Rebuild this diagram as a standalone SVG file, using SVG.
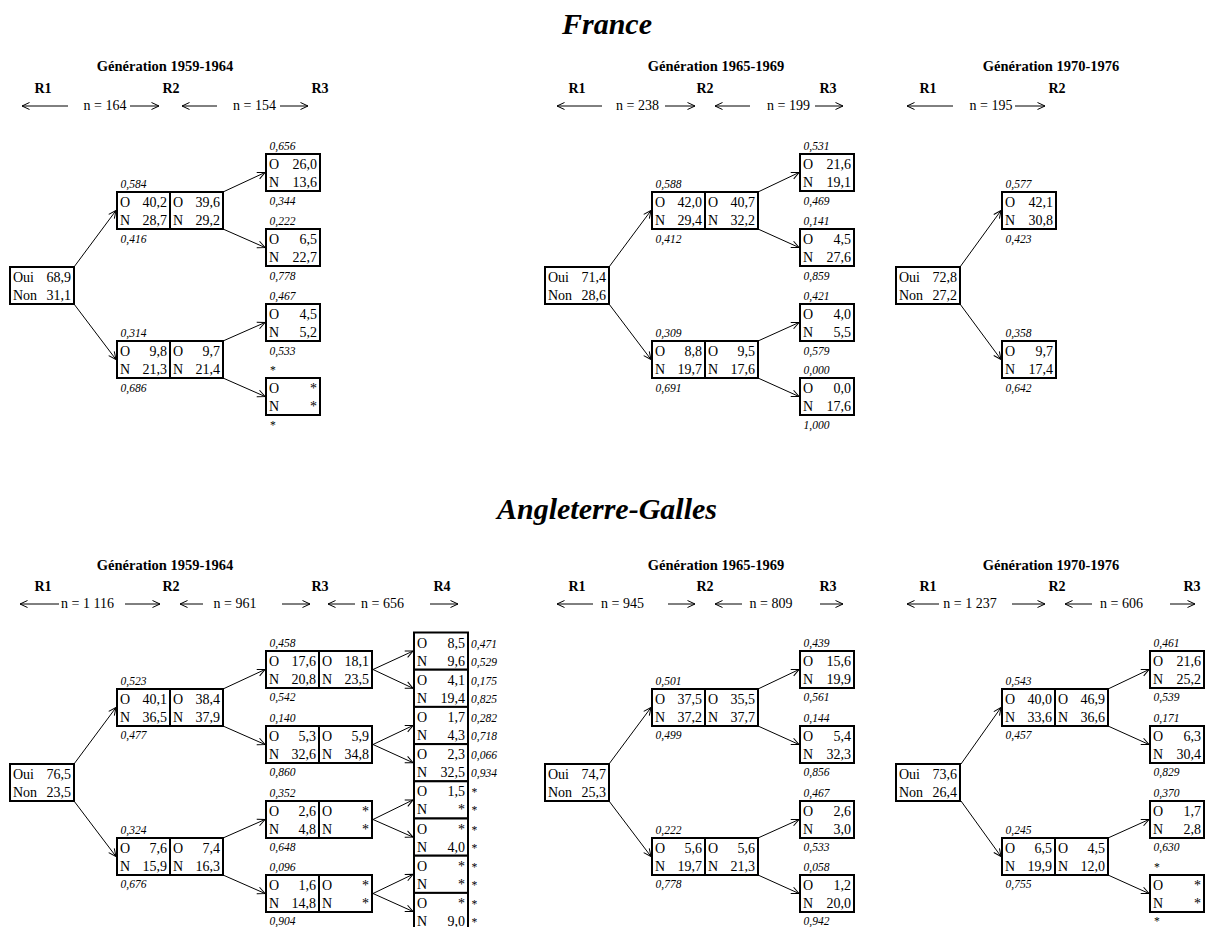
<svg xmlns="http://www.w3.org/2000/svg" width="1205" height="927" viewBox="0 0 1205 927">
<defs>
<marker id="ah" markerUnits="userSpaceOnUse" markerWidth="10" markerHeight="10" viewBox="0 0 10 10" refX="9.5" refY="5" orient="auto"><path d="M2,1.5 L9.5,5 L2,8.5" fill="none" stroke="#000" stroke-width="1"/></marker>
</defs>
<style>
text{font-family:"Liberation Serif","Times New Roman",serif;fill:#000}
.t{font-size:14px}
.e{text-anchor:end}
.l{font-size:11.5px;font-style:italic}
.hd{font-size:14.5px;font-weight:bold;text-anchor:middle}
.r{font-size:14px;font-weight:bold;text-anchor:middle}
.n{font-size:14px;text-anchor:middle}
.ttl{font-size:30px;font-weight:bold;font-style:italic;text-anchor:middle}
.b{fill:#fff;stroke:#000;stroke-width:2}
.d{stroke:#000;stroke-width:2}
.c{stroke:#000;stroke-width:1;fill:none;marker-end:url(#ah)}
</style>
<rect width="1205" height="927" fill="#fff"/>

<text class="ttl" x="607" y="34">France</text>
<text class="ttl" x="607" y="518.5">Angleterre-Galles</text>

<g id="headers">
<text class="hd" x="165" y="70.5">Génération 1959-1964</text>
<text class="r" x="43" y="93">R1</text><text class="r" x="171" y="93">R2</text><text class="r" x="320" y="93">R3</text>
<text class="n" x="105" y="110">n = 164</text><text class="n" x="254.5" y="110">n = 154</text>

<text class="hd" x="716" y="70.5">Génération 1965-1969</text>
<text class="r" x="577" y="93">R1</text><text class="r" x="705" y="93">R2</text><text class="r" x="828" y="93">R3</text>
<text class="n" x="637.5" y="110">n = 238</text><text class="n" x="788.5" y="110">n = 199</text>

<text class="hd" x="1051" y="70.5">Génération 1970-1976</text>
<text class="r" x="928" y="93">R1</text><text class="r" x="1057" y="93">R2</text>
<text class="n" x="991" y="110">n = 195</text>

<text class="hd" x="165" y="569.5">Génération 1959-1964</text>
<text class="r" x="43" y="591">R1</text><text class="r" x="171" y="591">R2</text><text class="r" x="320" y="591">R3</text><text class="r" x="442" y="591">R4</text>
<text class="n" x="87.5" y="608">n = 1 116</text><text class="n" x="235" y="608">n = 961</text><text class="n" x="382.5" y="608">n = 656</text>

<text class="hd" x="716" y="569.5">Génération 1965-1969</text>
<text class="r" x="577" y="591">R1</text><text class="r" x="705" y="591">R2</text><text class="r" x="828" y="591">R3</text>
<text class="n" x="622.5" y="608">n = 945</text><text class="n" x="771" y="608">n = 809</text>

<text class="hd" x="1051" y="569.5">Génération 1970-1976</text>
<text class="r" x="928" y="591">R1</text><text class="r" x="1057" y="591">R2</text><text class="r" x="1192" y="591">R3</text>
<text class="n" x="970" y="608">n = 1 237</text><text class="n" x="1121.5" y="608">n = 606</text>
</g>

<g id="scale-arrows">
<line class="c" x1="68" y1="106" x2="22" y2="106"/><line class="c" x1="130" y1="106" x2="159" y2="106"/>
<line class="c" x1="217" y1="106" x2="182" y2="106"/><line class="c" x1="280" y1="106" x2="308" y2="106"/>
<line class="c" x1="602" y1="106" x2="557" y2="106"/><line class="c" x1="665" y1="106" x2="695" y2="106"/>
<line class="c" x1="750" y1="106" x2="715" y2="106"/><line class="c" x1="815" y1="106" x2="843" y2="106"/>
<line class="c" x1="953" y1="106" x2="907" y2="106"/><line class="c" x1="1015" y1="106" x2="1045" y2="106"/>
<line class="c" x1="59" y1="604" x2="20" y2="604"/><line class="c" x1="125" y1="604" x2="160" y2="604"/>
<line class="c" x1="203" y1="604" x2="180" y2="604"/><line class="c" x1="282" y1="604" x2="310" y2="604"/>
<line class="c" x1="355" y1="604" x2="328" y2="604"/><line class="c" x1="430" y1="604" x2="458" y2="604"/>
<line class="c" x1="593" y1="604" x2="557" y2="604"/><line class="c" x1="668" y1="604" x2="695" y2="604"/>
<line class="c" x1="742" y1="604" x2="715" y2="604"/><line class="c" x1="820" y1="604" x2="843" y2="604"/>
<line class="c" x1="939" y1="604" x2="907" y2="604"/><line class="c" x1="1012" y1="604" x2="1045" y2="604"/>
<line class="c" x1="1092" y1="604" x2="1065" y2="604"/><line class="c" x1="1170" y1="604" x2="1195" y2="604"/>
</g>

<g id="connectors">
<line class="c" x1="74" y1="267" x2="116" y2="210.5"/>
<line class="c" x1="74" y1="304" x2="116" y2="359.5"/>
<line class="c" x1="223" y1="192" x2="265" y2="172.5"/>
<line class="c" x1="223" y1="229" x2="265" y2="247.5"/>
<line class="c" x1="223" y1="341" x2="265" y2="322.5"/>
<line class="c" x1="223" y1="378" x2="265" y2="396.5"/>

<line class="c" x1="609" y1="267" x2="651" y2="210.5"/>
<line class="c" x1="609" y1="304" x2="651" y2="359.5"/>
<line class="c" x1="758" y1="192" x2="799" y2="172.5"/>
<line class="c" x1="758" y1="229" x2="799" y2="247.5"/>
<line class="c" x1="758" y1="341" x2="799" y2="322.5"/>
<line class="c" x1="758" y1="378" x2="799" y2="396.5"/>

<line class="c" x1="960" y1="267" x2="1001" y2="210.5"/>
<line class="c" x1="960" y1="304" x2="1001" y2="359.5"/>

<line class="c" x1="74" y1="764" x2="116" y2="707.5"/>
<line class="c" x1="74" y1="801" x2="116" y2="856.5"/>
<line class="c" x1="223" y1="689" x2="265" y2="669.5"/>
<line class="c" x1="223" y1="726" x2="265" y2="744.5"/>
<line class="c" x1="223" y1="838" x2="265" y2="819.5"/>
<line class="c" x1="223" y1="875" x2="265" y2="893.5"/>
<line class="c" x1="373" y1="669.5" x2="413" y2="651.1"/>
<line class="c" x1="373" y1="669.5" x2="413" y2="688.3"/>
<line class="c" x1="373" y1="744.5" x2="413" y2="725.5"/>
<line class="c" x1="373" y1="744.5" x2="413" y2="762.7"/>
<line class="c" x1="373" y1="819.5" x2="413" y2="799.9"/>
<line class="c" x1="373" y1="819.5" x2="413" y2="837.1"/>
<line class="c" x1="373" y1="893.5" x2="413" y2="874.3"/>
<line class="c" x1="373" y1="893.5" x2="413" y2="911.5"/>

<line class="c" x1="609" y1="764" x2="651" y2="707.5"/>
<line class="c" x1="609" y1="801" x2="651" y2="856.5"/>
<line class="c" x1="758" y1="689" x2="799" y2="669.5"/>
<line class="c" x1="758" y1="726" x2="799" y2="744.5"/>
<line class="c" x1="758" y1="838" x2="799" y2="819.5"/>
<line class="c" x1="758" y1="875" x2="799" y2="893.5"/>

<line class="c" x1="961" y1="764" x2="1001" y2="707.5"/>
<line class="c" x1="961" y1="801" x2="1001" y2="856.5"/>
<line class="c" x1="1108" y1="689" x2="1149" y2="669.5"/>
<line class="c" x1="1108" y1="726" x2="1149" y2="744.5"/>
<line class="c" x1="1108" y1="838" x2="1149" y2="819.5"/>
<line class="c" x1="1108" y1="875" x2="1149" y2="893.5"/>
</g>

<!-- France 1959-1964 -->
<g id="fr59-root"><rect class="b" x="10" y="267" width="64" height="37"/><text class="t" x="13" y="282">Oui</text><text class="t e" x="71" y="282">68,9</text><text class="t" x="13" y="300">Non</text><text class="t e" x="71" y="300">31,1</text></g>
<g id="fr59-r2a"><rect class="b" x="117" y="192" width="106" height="37"/><line class="d" x1="170" y1="192" x2="170" y2="229"/><text class="l" x="120.5" y="188">0,584</text><text class="t" x="120" y="207">O</text><text class="t e" x="167" y="207">40,2</text><text class="t" x="173" y="207">O</text><text class="t e" x="220" y="207">39,6</text><text class="t" x="120" y="225">N</text><text class="t e" x="167" y="225">28,7</text><text class="t" x="173" y="225">N</text><text class="t e" x="220" y="225">29,2</text><text class="l" x="120.5" y="243">0,416</text></g>
<g id="fr59-r2b"><rect class="b" x="117" y="341" width="106" height="37"/><line class="d" x1="170" y1="341" x2="170" y2="378"/><text class="l" x="120.5" y="337">0,314</text><text class="t" x="120" y="356">O</text><text class="t e" x="167" y="356">9,8</text><text class="t" x="173" y="356">O</text><text class="t e" x="220" y="356">9,7</text><text class="t" x="120" y="374">N</text><text class="t e" x="167" y="374">21,3</text><text class="t" x="173" y="374">N</text><text class="t e" x="220" y="374">21,4</text><text class="l" x="120.5" y="392">0,686</text></g>
<g id="fr59-r3a"><rect class="b" x="266" y="154" width="54" height="37"/><text class="l" x="269.5" y="150">0,656</text><text class="t" x="269" y="169">O</text><text class="t e" x="317" y="169">26,0</text><text class="t" x="269" y="187">N</text><text class="t e" x="317" y="187">13,6</text><text class="l" x="269.5" y="205">0,344</text></g>
<g id="fr59-r3b"><rect class="b" x="266" y="229" width="54" height="37"/><text class="l" x="269.5" y="225">0,222</text><text class="t" x="269" y="244">O</text><text class="t e" x="317" y="244">6,5</text><text class="t" x="269" y="262">N</text><text class="t e" x="317" y="262">22,7</text><text class="l" x="269.5" y="280">0,778</text></g>
<g id="fr59-r3c"><rect class="b" x="266" y="304" width="54" height="37"/><text class="l" x="269.5" y="300">0,467</text><text class="t" x="269" y="319">O</text><text class="t e" x="317" y="319">4,5</text><text class="t" x="269" y="337">N</text><text class="t e" x="317" y="337">5,2</text><text class="l" x="269.5" y="355">0,533</text></g>
<g id="fr59-r3d"><rect class="b" x="266" y="378" width="54" height="37"/><text class="l" x="269.5" y="374">*</text><text class="t" x="269" y="393">O</text><text class="t e" x="317" y="393">*</text><text class="t" x="269" y="411">N</text><text class="t e" x="317" y="411">*</text><text class="l" x="269.5" y="429">*</text></g>

<!-- France 1965-1969 -->
<g id="fr65-root"><rect class="b" x="545" y="267" width="64" height="37"/><text class="t" x="548" y="282">Oui</text><text class="t e" x="606" y="282">71,4</text><text class="t" x="548" y="300">Non</text><text class="t e" x="606" y="300">28,6</text></g>
<g id="fr65-r2a"><rect class="b" x="652" y="192" width="106" height="37"/><line class="d" x1="705" y1="192" x2="705" y2="229"/><text class="l" x="655.5" y="188">0,588</text><text class="t" x="655" y="207">O</text><text class="t e" x="702" y="207">42,0</text><text class="t" x="708" y="207">O</text><text class="t e" x="755" y="207">40,7</text><text class="t" x="655" y="225">N</text><text class="t e" x="702" y="225">29,4</text><text class="t" x="708" y="225">N</text><text class="t e" x="755" y="225">32,2</text><text class="l" x="655.5" y="243">0,412</text></g>
<g id="fr65-r2b"><rect class="b" x="652" y="341" width="106" height="37"/><line class="d" x1="705" y1="341" x2="705" y2="378"/><text class="l" x="655.5" y="337">0,309</text><text class="t" x="655" y="356">O</text><text class="t e" x="702" y="356">8,8</text><text class="t" x="708" y="356">O</text><text class="t e" x="755" y="356">9,5</text><text class="t" x="655" y="374">N</text><text class="t e" x="702" y="374">19,7</text><text class="t" x="708" y="374">N</text><text class="t e" x="755" y="374">17,6</text><text class="l" x="655.5" y="392">0,691</text></g>
<g id="fr65-r3a"><rect class="b" x="800" y="154" width="54" height="37"/><text class="l" x="803.5" y="150">0,531</text><text class="t" x="803" y="169">O</text><text class="t e" x="851" y="169">21,6</text><text class="t" x="803" y="187">N</text><text class="t e" x="851" y="187">19,1</text><text class="l" x="803.5" y="205">0,469</text></g>
<g id="fr65-r3b"><rect class="b" x="800" y="229" width="54" height="37"/><text class="l" x="803.5" y="225">0,141</text><text class="t" x="803" y="244">O</text><text class="t e" x="851" y="244">4,5</text><text class="t" x="803" y="262">N</text><text class="t e" x="851" y="262">27,6</text><text class="l" x="803.5" y="280">0,859</text></g>
<g id="fr65-r3c"><rect class="b" x="800" y="304" width="54" height="37"/><text class="l" x="803.5" y="300">0,421</text><text class="t" x="803" y="319">O</text><text class="t e" x="851" y="319">4,0</text><text class="t" x="803" y="337">N</text><text class="t e" x="851" y="337">5,5</text><text class="l" x="803.5" y="355">0,579</text></g>
<g id="fr65-r3d"><rect class="b" x="800" y="378" width="54" height="37"/><text class="l" x="803.5" y="374">0,000</text><text class="t" x="803" y="393">O</text><text class="t e" x="851" y="393">0,0</text><text class="t" x="803" y="411">N</text><text class="t e" x="851" y="411">17,6</text><text class="l" x="803.5" y="429">1,000</text></g>

<!-- France 1970-1976 -->
<g id="fr70-root"><rect class="b" x="896" y="267" width="64" height="37"/><text class="t" x="899" y="282">Oui</text><text class="t e" x="957" y="282">72,8</text><text class="t" x="899" y="300">Non</text><text class="t e" x="957" y="300">27,2</text></g>
<g id="fr70-r2a"><rect class="b" x="1002" y="192" width="54" height="37"/><text class="l" x="1005.5" y="188">0,577</text><text class="t" x="1005" y="207">O</text><text class="t e" x="1053" y="207">42,1</text><text class="t" x="1005" y="225">N</text><text class="t e" x="1053" y="225">30,8</text><text class="l" x="1005.5" y="243">0,423</text></g>
<g id="fr70-r2b"><rect class="b" x="1002" y="341" width="54" height="37"/><text class="l" x="1005.5" y="337">0,358</text><text class="t" x="1005" y="356">O</text><text class="t e" x="1053" y="356">9,7</text><text class="t" x="1005" y="374">N</text><text class="t e" x="1053" y="374">17,4</text><text class="l" x="1005.5" y="392">0,642</text></g>

<!-- England 1959-1964 -->
<g id="en59-root"><rect class="b" x="10" y="764" width="64" height="37"/><text class="t" x="13" y="779">Oui</text><text class="t e" x="71" y="779">76,5</text><text class="t" x="13" y="797">Non</text><text class="t e" x="71" y="797">23,5</text></g>
<g id="en59-r2a"><rect class="b" x="117" y="689" width="106" height="37"/><line class="d" x1="170" y1="689" x2="170" y2="726"/><text class="l" x="120.5" y="685">0,523</text><text class="t" x="120" y="704">O</text><text class="t e" x="167" y="704">40,1</text><text class="t" x="173" y="704">O</text><text class="t e" x="220" y="704">38,4</text><text class="t" x="120" y="722">N</text><text class="t e" x="167" y="722">36,5</text><text class="t" x="173" y="722">N</text><text class="t e" x="220" y="722">37,9</text><text class="l" x="120.5" y="739">0,477</text></g>
<g id="en59-r2b"><rect class="b" x="117" y="838" width="106" height="37"/><line class="d" x1="170" y1="838" x2="170" y2="875"/><text class="l" x="120.5" y="834">0,324</text><text class="t" x="120" y="853">O</text><text class="t e" x="167" y="853">7,6</text><text class="t" x="173" y="853">O</text><text class="t e" x="220" y="853">7,4</text><text class="t" x="120" y="871">N</text><text class="t e" x="167" y="871">15,9</text><text class="t" x="173" y="871">N</text><text class="t e" x="220" y="871">16,3</text><text class="l" x="120.5" y="888">0,676</text></g>
<g id="en59-r3a"><rect class="b" x="266" y="651" width="106" height="37"/><line class="d" x1="319" y1="651" x2="319" y2="688"/><text class="l" x="269.5" y="647">0,458</text><text class="t" x="269" y="666">O</text><text class="t e" x="316" y="666">17,6</text><text class="t" x="322" y="666">O</text><text class="t e" x="369" y="666">18,1</text><text class="t" x="269" y="684">N</text><text class="t e" x="316" y="684">20,8</text><text class="t" x="322" y="684">N</text><text class="t e" x="369" y="684">23,5</text><text class="l" x="269.5" y="701">0,542</text></g>
<g id="en59-r3b"><rect class="b" x="266" y="726" width="106" height="37"/><line class="d" x1="319" y1="726" x2="319" y2="763"/><text class="l" x="269.5" y="722">0,140</text><text class="t" x="269" y="741">O</text><text class="t e" x="316" y="741">5,3</text><text class="t" x="322" y="741">O</text><text class="t e" x="369" y="741">5,9</text><text class="t" x="269" y="759">N</text><text class="t e" x="316" y="759">32,6</text><text class="t" x="322" y="759">N</text><text class="t e" x="369" y="759">34,8</text><text class="l" x="269.5" y="776">0,860</text></g>
<g id="en59-r3c"><rect class="b" x="266" y="801" width="106" height="37"/><line class="d" x1="319" y1="801" x2="319" y2="838"/><text class="l" x="269.5" y="797">0,352</text><text class="t" x="269" y="816">O</text><text class="t e" x="316" y="816">2,6</text><text class="t" x="322" y="816">O</text><text class="t e" x="369" y="816">*</text><text class="t" x="269" y="834">N</text><text class="t e" x="316" y="834">4,8</text><text class="t" x="322" y="834">N</text><text class="t e" x="369" y="834">*</text><text class="l" x="269.5" y="851">0,648</text></g>
<g id="en59-r3d"><rect class="b" x="266" y="875" width="106" height="37"/><line class="d" x1="319" y1="875" x2="319" y2="912"/><text class="l" x="269.5" y="871">0,096</text><text class="t" x="269" y="890">O</text><text class="t e" x="316" y="890">1,6</text><text class="t" x="322" y="890">O</text><text class="t e" x="369" y="890">*</text><text class="t" x="269" y="908">N</text><text class="t e" x="316" y="908">14,8</text><text class="t" x="322" y="908">N</text><text class="t e" x="369" y="908">*</text><text class="l" x="269.5" y="925">0,904</text></g>
<g id="en59-r4-1"><rect class="b" x="414" y="632.5" width="54" height="37.2"/><text class="t" x="417" y="647.5">O</text><text class="t e" x="465" y="647.5">8,5</text><text class="l" x="471" y="647.5">0,471</text><text class="t" x="417" y="665.5">N</text><text class="t e" x="465" y="665.5">9,6</text><text class="l" x="471" y="665.5">0,529</text></g>
<g id="en59-r4-2"><rect class="b" x="414" y="669.7" width="54" height="37.2"/><text class="t" x="417" y="684.7">O</text><text class="t e" x="465" y="684.7">4,1</text><text class="l" x="471" y="684.7">0,175</text><text class="t" x="417" y="702.7">N</text><text class="t e" x="465" y="702.7">19,4</text><text class="l" x="471" y="702.7">0,825</text></g>
<g id="en59-r4-3"><rect class="b" x="414" y="706.9" width="54" height="37.2"/><text class="t" x="417" y="721.9">O</text><text class="t e" x="465" y="721.9">1,7</text><text class="l" x="471" y="721.9">0,282</text><text class="t" x="417" y="739.9">N</text><text class="t e" x="465" y="739.9">4,3</text><text class="l" x="471" y="739.9">0,718</text></g>
<g id="en59-r4-4"><rect class="b" x="414" y="744.1" width="54" height="37.2"/><text class="t" x="417" y="759.1">O</text><text class="t e" x="465" y="759.1">2,3</text><text class="l" x="471" y="759.1">0,066</text><text class="t" x="417" y="777.1">N</text><text class="t e" x="465" y="777.1">32,5</text><text class="l" x="471" y="777.1">0,934</text></g>
<g id="en59-r4-5"><rect class="b" x="414" y="781.3" width="54" height="37.2"/><text class="t" x="417" y="796.3">O</text><text class="t e" x="465" y="796.3">1,5</text><text class="l" x="471" y="796.3">*</text><text class="t" x="417" y="814.3">N</text><text class="t e" x="465" y="814.3">*</text><text class="l" x="471" y="814.3">*</text></g>
<g id="en59-r4-6"><rect class="b" x="414" y="818.5" width="54" height="37.2"/><text class="t" x="417" y="833.5">O</text><text class="t e" x="465" y="833.5">*</text><text class="l" x="471" y="833.5">*</text><text class="t" x="417" y="851.5">N</text><text class="t e" x="465" y="851.5">4,0</text><text class="l" x="471" y="851.5">*</text></g>
<g id="en59-r4-7"><rect class="b" x="414" y="855.7" width="54" height="37.2"/><text class="t" x="417" y="870.7">O</text><text class="t e" x="465" y="870.7">*</text><text class="l" x="471" y="870.7">*</text><text class="t" x="417" y="888.7">N</text><text class="t e" x="465" y="888.7">*</text><text class="l" x="471" y="888.7">*</text></g>
<g id="en59-r4-8"><rect class="b" x="414" y="892.9" width="54" height="37.2"/><text class="t" x="417" y="907.9">O</text><text class="t e" x="465" y="907.9">*</text><text class="l" x="471" y="907.9">*</text><text class="t" x="417" y="925.9">N</text><text class="t e" x="465" y="925.9">9,0</text><text class="l" x="471" y="925.9">*</text></g>

<!-- England 1965-1969 -->
<g id="en65-root"><rect class="b" x="545" y="764" width="64" height="37"/><text class="t" x="548" y="779">Oui</text><text class="t e" x="606" y="779">74,7</text><text class="t" x="548" y="797">Non</text><text class="t e" x="606" y="797">25,3</text></g>
<g id="en65-r2a"><rect class="b" x="652" y="689" width="106" height="37"/><line class="d" x1="705" y1="689" x2="705" y2="726"/><text class="l" x="655.5" y="685">0,501</text><text class="t" x="655" y="704">O</text><text class="t e" x="702" y="704">37,5</text><text class="t" x="708" y="704">O</text><text class="t e" x="755" y="704">35,5</text><text class="t" x="655" y="722">N</text><text class="t e" x="702" y="722">37,2</text><text class="t" x="708" y="722">N</text><text class="t e" x="755" y="722">37,7</text><text class="l" x="655.5" y="739">0,499</text></g>
<g id="en65-r2b"><rect class="b" x="652" y="838" width="106" height="37"/><line class="d" x1="705" y1="838" x2="705" y2="875"/><text class="l" x="655.5" y="834">0,222</text><text class="t" x="655" y="853">O</text><text class="t e" x="702" y="853">5,6</text><text class="t" x="708" y="853">O</text><text class="t e" x="755" y="853">5,6</text><text class="t" x="655" y="871">N</text><text class="t e" x="702" y="871">19,7</text><text class="t" x="708" y="871">N</text><text class="t e" x="755" y="871">21,3</text><text class="l" x="655.5" y="888">0,778</text></g>
<g id="en65-r3a"><rect class="b" x="800" y="651" width="54" height="37"/><text class="l" x="803.5" y="647">0,439</text><text class="t" x="803" y="666">O</text><text class="t e" x="851" y="666">15,6</text><text class="t" x="803" y="684">N</text><text class="t e" x="851" y="684">19,9</text><text class="l" x="803.5" y="701">0,561</text></g>
<g id="en65-r3b"><rect class="b" x="800" y="726" width="54" height="37"/><text class="l" x="803.5" y="722">0,144</text><text class="t" x="803" y="741">O</text><text class="t e" x="851" y="741">5,4</text><text class="t" x="803" y="759">N</text><text class="t e" x="851" y="759">32,3</text><text class="l" x="803.5" y="776">0,856</text></g>
<g id="en65-r3c"><rect class="b" x="800" y="801" width="54" height="37"/><text class="l" x="803.5" y="797">0,467</text><text class="t" x="803" y="816">O</text><text class="t e" x="851" y="816">2,6</text><text class="t" x="803" y="834">N</text><text class="t e" x="851" y="834">3,0</text><text class="l" x="803.5" y="851">0,533</text></g>
<g id="en65-r3d"><rect class="b" x="800" y="875" width="54" height="37"/><text class="l" x="803.5" y="871">0,058</text><text class="t" x="803" y="890">O</text><text class="t e" x="851" y="890">1,2</text><text class="t" x="803" y="908">N</text><text class="t e" x="851" y="908">20,0</text><text class="l" x="803.5" y="925">0,942</text></g>

<!-- England 1970-1976 -->
<g id="en70-root"><rect class="b" x="896" y="764" width="64" height="37"/><text class="t" x="899" y="779">Oui</text><text class="t e" x="957" y="779">73,6</text><text class="t" x="899" y="797">Non</text><text class="t e" x="957" y="797">26,4</text></g>
<g id="en70-r2a"><rect class="b" x="1002" y="689" width="106" height="37"/><line class="d" x1="1055" y1="689" x2="1055" y2="726"/><text class="l" x="1005.5" y="685">0,543</text><text class="t" x="1005" y="704">O</text><text class="t e" x="1052" y="704">40,0</text><text class="t" x="1058" y="704">O</text><text class="t e" x="1105" y="704">46,9</text><text class="t" x="1005" y="722">N</text><text class="t e" x="1052" y="722">33,6</text><text class="t" x="1058" y="722">N</text><text class="t e" x="1105" y="722">36,6</text><text class="l" x="1005.5" y="739">0,457</text></g>
<g id="en70-r2b"><rect class="b" x="1002" y="838" width="106" height="37"/><line class="d" x1="1055" y1="838" x2="1055" y2="875"/><text class="l" x="1005.5" y="834">0,245</text><text class="t" x="1005" y="853">O</text><text class="t e" x="1052" y="853">6,5</text><text class="t" x="1058" y="853">O</text><text class="t e" x="1105" y="853">4,5</text><text class="t" x="1005" y="871">N</text><text class="t e" x="1052" y="871">19,9</text><text class="t" x="1058" y="871">N</text><text class="t e" x="1105" y="871">12,0</text><text class="l" x="1005.5" y="888">0,755</text></g>
<g id="en70-r3a"><rect class="b" x="1150" y="651" width="54" height="37"/><text class="l" x="1153.5" y="647">0,461</text><text class="t" x="1153" y="666">O</text><text class="t e" x="1201" y="666">21,6</text><text class="t" x="1153" y="684">N</text><text class="t e" x="1201" y="684">25,2</text><text class="l" x="1153.5" y="701">0,539</text></g>
<g id="en70-r3b"><rect class="b" x="1150" y="726" width="54" height="37"/><text class="l" x="1153.5" y="722">0,171</text><text class="t" x="1153" y="741">O</text><text class="t e" x="1201" y="741">6,3</text><text class="t" x="1153" y="759">N</text><text class="t e" x="1201" y="759">30,4</text><text class="l" x="1153.5" y="776">0,829</text></g>
<g id="en70-r3c"><rect class="b" x="1150" y="801" width="54" height="37"/><text class="l" x="1153.5" y="797">0,370</text><text class="t" x="1153" y="816">O</text><text class="t e" x="1201" y="816">1,7</text><text class="t" x="1153" y="834">N</text><text class="t e" x="1201" y="834">2,8</text><text class="l" x="1153.5" y="851">0,630</text></g>
<g id="en70-r3d"><rect class="b" x="1150" y="875" width="54" height="37"/><text class="l" x="1153.5" y="871">*</text><text class="t" x="1153" y="890">O</text><text class="t e" x="1201" y="890">*</text><text class="t" x="1153" y="908">N</text><text class="t e" x="1201" y="908">*</text><text class="l" x="1153.5" y="925">*</text></g>
</svg>
